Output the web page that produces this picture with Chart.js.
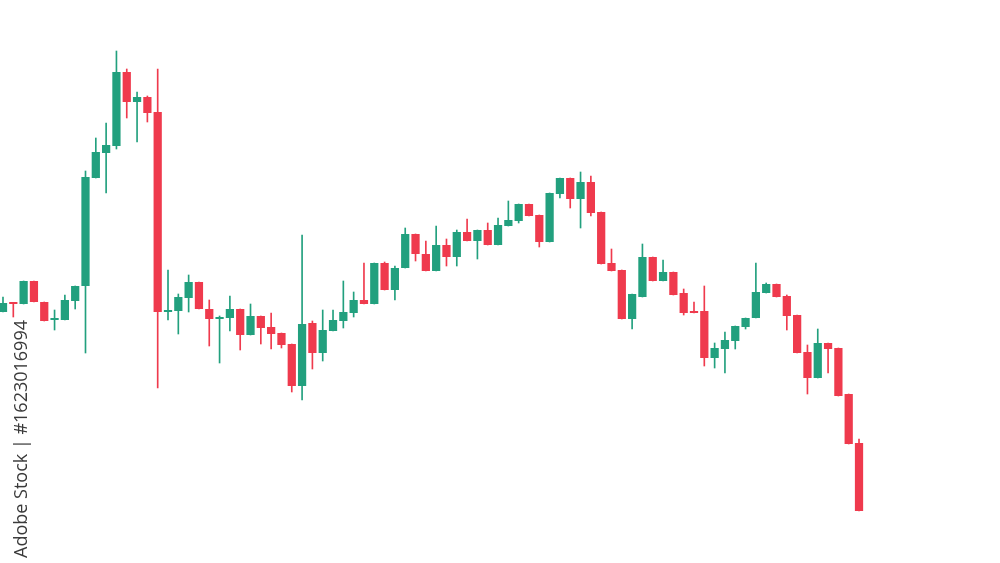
<!DOCTYPE html>
<html lang="en"><head><meta charset="UTF-8"><title>Candles</title>
<style>
  html,body{margin:0;padding:0;background:#fff;}
  .wrap{position:relative;width:1000px;height:563px;overflow:hidden;}
  canvas{display:block;}
  .stamp{position:absolute;left:11px;top:558px;transform:rotate(-90deg);transform-origin:left top;
         font-family:"Open Sans",sans-serif;font-size:18px;line-height:18px;color:#3a3a3a;white-space:nowrap;}
</style>
<script src="https://cdn.jsdelivr.net/npm/chart.js"></script>
</head><body>
<div class="wrap">
  <canvas id="c" width="1000" height="563"></canvas>
  <div class="stamp">Adobe Stock | #1623016994</div>
</div>
<script>
// candle values, one entry per session
const opens  = [251,260,259,282,261,243,243,262,277,385,410,417,491,461,466,451,251,252,265,281,
                254,244,245,254,228,247,236,230,219,177,240,210,232,242,250,263,259,300,273,295,
                329,309,292,318,306,331,322,333,318,337,342,359,348,321,369,385,364,381,351,300,
                293,244,266,306,282,291,270,252,252,205,214,222,236,245,270,279,267,248,211,185,
                220,215,169,120];
const closes = [260,259,282,261,242,245,263,277,386,411,418,491,461,466,450,251,253,266,281,254,
                244,246,254,228,247,235,229,218,177,239,210,233,243,251,263,259,300,273,295,329,
                309,292,318,306,331,322,333,318,338,343,359,347,321,370,385,364,381,350,299,292,
                244,269,306,282,291,268,250,250,205,215,223,237,245,271,279,266,247,210,185,220,
                214,167,119,52];
const highs  = [266,260,282,282,261,253,268,277,392,425,440,512,494,471,467,494,293,269,288,281,
                263,247,267,254,259,247,250,230,219,328,242,253,253,282,271,300,300,301,297,335,
                329,322,337,324,333,344,333,340,345,362,359,359,348,370,385,385,391,387,351,314,
                293,269,319,306,303,291,274,261,277,220,231,237,245,300,280,279,268,248,218,234,
                220,215,169,124];
const lows   = [251,246,259,261,242,233,243,254,210,385,370,414,445,421,441,175,243,229,251,254,
                217,200,232,213,228,219,214,215,171,163,194,202,232,235,246,259,259,273,263,295,
                302,292,292,297,297,322,304,318,318,337,340,347,316,321,365,355,335,347,299,292,
                244,234,266,282,282,268,248,250,197,195,190,214,234,245,270,266,233,210,169,185,
                190,167,119,52];

const UP = '#22a07e', DOWN = '#ef3a4d';
const colors = opens.map((o, i) => closes[i] >= o ? UP : DOWN);
const bodies = opens.map((o, i) => ({ x: i, y: [o, closes[i]] }));
const wicks  = lows.map((l, i) => ({ x: i, y: [l, highs[i]] }));

new Chart(document.getElementById('c').getContext('2d'), {
  type: 'bar',
  data: {
    datasets: [
      { data: bodies, backgroundColor: colors, barPercentage: 0.8, categoryPercentage: 1,
        grouped: false, minBarLength: 2, order: 1 },
      { data: wicks, backgroundColor: colors, barThickness: 1, grouped: false, order: 2 }
    ]
  },
  options: {
    responsive: false,
    animation: false,
    layout: { padding: 0 },
    plugins: { legend: { display: false }, tooltip: { enabled: false } },
    scales: {
      x: { type: 'linear', min: -0.29, max: 96.67, offset: false, display: false },
      y: { min: 0, max: 563, display: false }
    }
  }
});
</script>
</body></html>
